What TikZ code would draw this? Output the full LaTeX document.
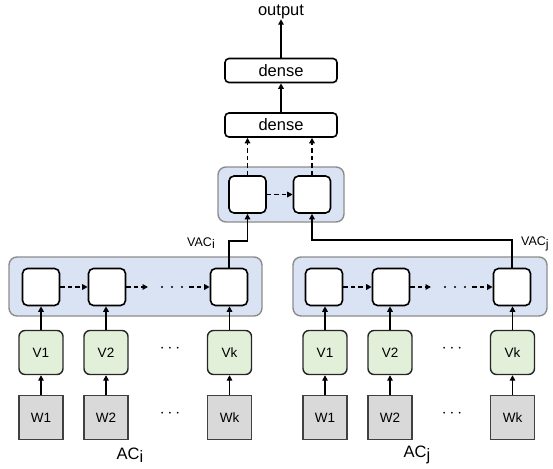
\documentclass[tikz,border=0pt]{standalone}
\usepackage{fontspec}
\setmainfont{Liberation Sans}
\usetikzlibrary{arrows.meta}
\definecolor{panelblue}{HTML}{DAE3F3}
\definecolor{panelline}{HTML}{8C8C8C}
\definecolor{vgreen}{HTML}{E2EFD9}
\definecolor{wgray}{HTML}{D9D9D9}
\begin{document}
\begin{tikzpicture}[x=1pt,y=-1pt,
  font=\fontsize{12.5}{15}\selectfont,
  big/.style={font=\fontsize{16.5}{19}\selectfont},
  mid/.style={font=\fontsize{13.5}{16}\selectfont},
  panel/.style={draw=panelline, fill=panelblue, line width=1.4pt, rounded corners=8pt},
  cell/.style={draw=black, fill=white, line width=1.6pt, rounded corners=5pt, minimum width=37pt, minimum height=37pt, inner sep=0pt},
  vbox/.style={draw=black!85, fill=vgreen, line width=1.4pt, rounded corners=6pt, minimum width=44pt, minimum height=44pt, inner sep=0pt, mid},
  wbox/.style={draw=black!75, fill=wgray, line width=1.4pt, minimum width=44pt, minimum height=44pt, inner sep=0pt, mid},
  dbox/.style={draw=black, fill=white, line width=1.6pt, rounded corners=4pt, minimum width=112pt, minimum height=24pt, inner sep=0pt, big},
  arr/.style={line width=1.6pt, -{Triangle[length=5.5pt,width=5.5pt]}},
  darr/.style={line width=1.4pt, dash pattern=on 4.5pt off 3pt, -{Triangle[length=5.5pt,width=5.5pt]}},
  lbl/.style={inner sep=0pt}
]
\useasboundingbox (0,0) rectangle (553,468);

% panels
\draw[panel] (9,257) rectangle (262,316);
\draw[panel] (293,257) rectangle (547,316);
\draw[panel] (218,167) rectangle (344,222);

% top
\node[lbl, big] (out) at (281,12) {output};
\node[dbox] (d2) at (281,70.5) {dense};
\node[dbox] (d1) at (281,125) {dense};
\node[cell] (T1) at (247.5,194.5) {};
\node[cell] (T2) at (312,194.5) {};

% left group
\node[cell] (L1) at (41,287) {};
\node[cell] (L2) at (107,287) {};
\node[cell] (Lk) at (229,287) {};
\node[vbox] (LV1) at (41,352.5) {V1};
\node[vbox] (LV2) at (106,352.5) {V2};
\node[vbox] (LVk) at (229.5,352.5) {Vk};
\node[wbox] (LW1) at (41,417.5) {W1};
\node[wbox] (LW2) at (106,417.5) {W2};
\node[wbox] (LWk) at (229.5,417.5) {Wk};
\node[lbl, big] (LVd) at (170,349) {$\cdots$};
\node[lbl, big] (LWd) at (170,414) {$\cdots$};
\node[lbl, big] (ACi) at (130,455) {AC\raisebox{-0.4ex}{i}};

% right group
\node[cell] (R1) at (324,287) {};
\node[cell] (R2) at (391,287) {};
\node[cell] (Rk) at (512,287) {};
\node[vbox] (RV1) at (325,352.5) {V1};
\node[vbox] (RV2) at (390,352.5) {V2};
\node[vbox] (RVk) at (512.5,352.5) {Vk};
\node[wbox] (RW1) at (325,417.5) {W1};
\node[wbox] (RW2) at (390,417.5) {W2};
\node[wbox] (RWk) at (512.5,417.5) {Wk};
\node[lbl, big] (RVd) at (452,349) {$\cdots$};
\node[lbl, big] (RWd) at (452,414) {$\cdots$};
\node[lbl, big] (ACj) at (417,455) {AC\raisebox{-0.4ex}{j}};

% labels of connectors
\node[lbl] (vaci) at (201,243) {VAC\raisebox{-0.35ex}{i}};
\node[lbl, anchor=west] (vacj) at (521,244) {VAC\raisebox{-0.35ex}{j}};

% coordinates
\coordinate (ja) at (247.5,241);
\coordinate (jb) at (312,240);
\coordinate (Ldot1) at (148,287);
\coordinate (Ldot2) at (189,287);
\coordinate (Rdot1) at (431,287);
\coordinate (Rdot2) at (472,287);

% top arrows
\draw[arr] (d2.north) -- (out.south);
\draw[arr] (d1.north) -- (d2.south);
\draw[darr] (T1.north) -- (T1.north |- d1.south);
\draw[darr] (T2.north) -- (T2.north |- d1.south);
\draw[darr] (T1.east) -- (T2.west);

% left chain
\draw[darr] (L1.east) -- (L2.west);
\draw[darr] (L2.east) -- (Ldot1);
\foreach \x in {162,172,182} \fill (\x,287) circle (1.1pt);
\draw[darr] (Ldot2) -- (Lk.west);
\draw[arr] (LV1.north) -- (L1.south);
\draw[arr] (LV2.north) -- (LV2.north |- L2.south);
\draw[arr] (LVk.north) -- (LVk.north |- Lk.south);
\draw[arr] (LW1.north) -- (LV1.south);
\draw[arr] (LW2.north) -- (LV2.south);
\draw[arr] (LWk.north) -- (LVk.south);

% right chain
\draw[darr] (R1.east) -- (R2.west);
\draw[darr] (R2.east) -- (Rdot1);
\foreach \x in {445,455,465} \fill (\x,287) circle (1.1pt);
\draw[darr] (Rdot2) -- (Rk.west);
\draw[arr] (RV1.north) -- (RV1.north |- R1.south);
\draw[arr] (RV2.north) -- (RV2.north |- R2.south);
\draw[arr] (RVk.north) -- (RVk.north |- Rk.south);
\draw[arr] (RW1.north) -- (RV1.south);
\draw[arr] (RW2.north) -- (RV2.south);
\draw[arr] (RWk.north) -- (RVk.south);

% VAC connectors
\draw[arr] (Lk.north) |- (ja) -- (T1.south);
\draw[arr] (Rk.north) |- (jb) -- (T2.south);
\end{tikzpicture}
\end{document}
